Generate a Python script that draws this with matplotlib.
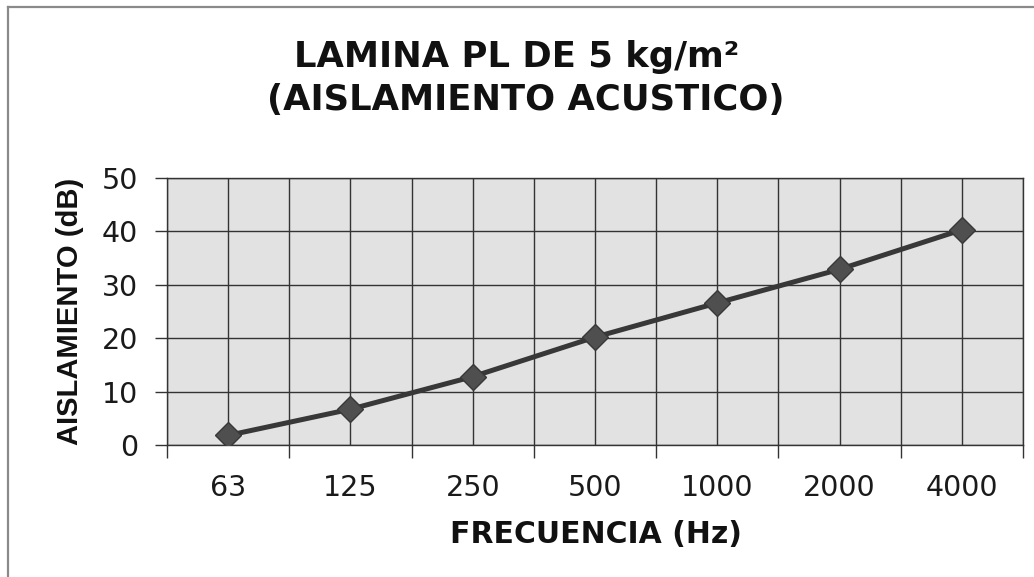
import matplotlib
matplotlib.use("Agg")
import matplotlib.pyplot as plt
from matplotlib.lines import Line2D
import numpy as np

categories = ["63", "125", "250", "500", "1000", "2000", "4000"]
aislamiento = [1.8, 6.7, 12.8, 20.2, 26.6, 32.9, 40.3]
yticks = [0, 10, 20, 30, 40, 50]

plt.rcParams['font.family'] = ['DejaVu Sans']

W, H = 1034, 577
fig = plt.figure(figsize=(W / 100, H / 100), dpi=100)
fig.patch.set_facecolor("white")
ax = fig.add_axes([167/W, 1-445/H, (1023-167)/W, (445-178)/H])
ax.set_facecolor("#e2e2e2")

x = np.arange(len(categories))
ax.plot(x, aislamiento, color="#383838", lw=3.6, marker="D", markersize=13,
        markerfacecolor="#4f4f4f", markeredgecolor="#383838", zorder=5)

ax.set_xlim(-0.5, len(categories) - 0.5)
ax.set_ylim(0, 50)

# grid: vertical lines at every half category, horizontal every 10
for gx in np.arange(-0.5, len(categories) - 0.4, 0.5):
    ax.axvline(gx, color="#333333", lw=1.0, zorder=1)
for gy in yticks:
    ax.axhline(gy, color="#333333", lw=1.0, zorder=1)

ax.set_xticks(np.arange(-0.5, len(categories), 1.0))
ax.set_xticklabels([])
ax.set_xticks(x, minor=True)
ax.set_xticklabels(categories, minor=True, fontsize=20.5, color="#1a1a1a")
ax.tick_params(axis="x", which="minor", length=0, pad=21)
ax.tick_params(axis="x", which="major", length=9, width=1, color="#333333", direction="out")
ax.set_yticks(yticks)
ax.set_yticklabels([str(v) for v in yticks], fontsize=20.5, color="#1a1a1a")
ax.tick_params(axis="y", length=9, width=1, color="#333333", direction="out", pad=12)

for s in ax.spines.values():
    s.set_color("#333333")
    s.set_linewidth(1.0)

fig.text(596/W, 1-543/H, "FRECUENCIA (Hz)", ha="center", va="baseline",
         fontsize=21.5, fontweight="bold", color="#111111")
fig.text(70/W, 1-311/H, "AISLAMIENTO (dB)", ha="center", va="center", rotation=90,
         fontsize=21, fontweight="bold", family=["Liberation Sans", "DejaVu Sans"],
         color="#111111")

fig.text(0.5, 1-67/H, "LAMINA PL DE 5 kg/m²", ha="center", va="baseline",
         fontsize=25.5, fontweight="bold", color="#111111")
fig.text(0.508, 1-110/H, "(AISLAMIENTO ACUSTICO)", ha="center", va="baseline",
         fontsize=25.5, fontweight="bold", color="#111111")

# outer frame (left and top edges)
fig.add_artist(Line2D([8/W, 8/W], [0, 1-7/H], transform=fig.transFigure,
                      color="#8a8a8a", lw=1.6))
fig.add_artist(Line2D([8/W, 1], [1-7/H, 1-7/H], transform=fig.transFigure,
                      color="#8a8a8a", lw=1.6))

fig.savefig("out.png", dpi=100)
